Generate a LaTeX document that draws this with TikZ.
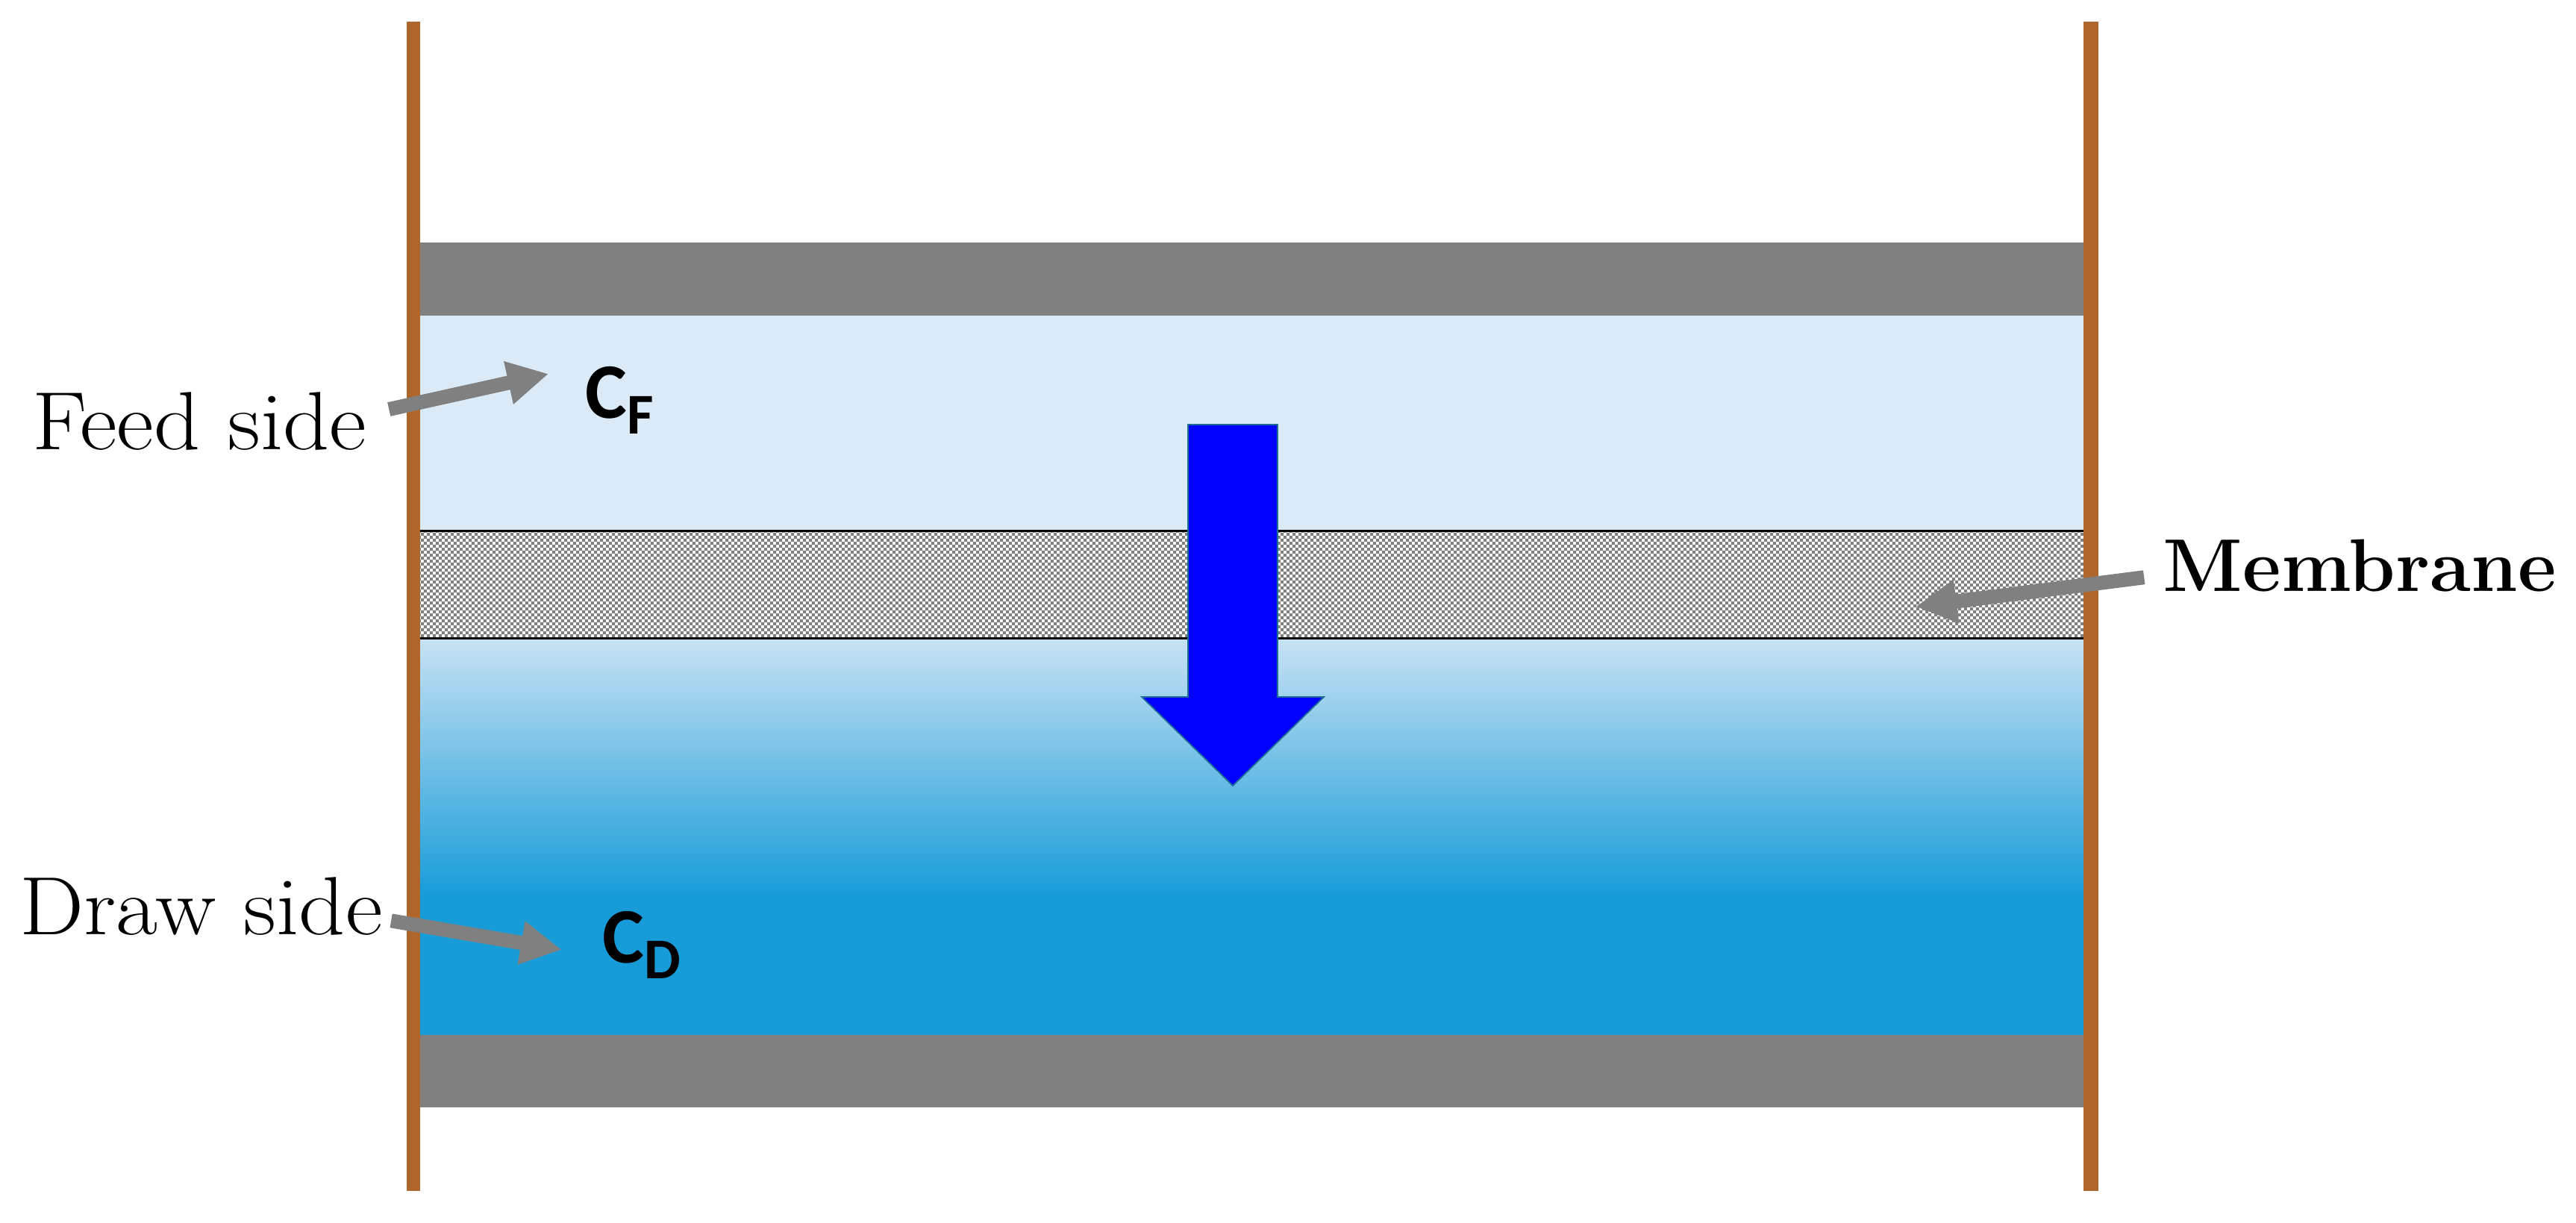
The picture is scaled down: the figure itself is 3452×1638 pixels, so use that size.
\documentclass[tikz,border=0pt]{standalone}
\usepackage{fontspec}
\newfontfamily\concfont{Carlito}
\newfontfamily\sidefont{Latin Modern Roman}[FakeStretch=1.1]
\usetikzlibrary{arrows.meta,patterns}

\definecolor{wallbrown}{RGB}{176,102,42}
\definecolor{plategray}{RGB}{128,128,128}
\definecolor{feedblue}{RGB}{218,234,247}
\definecolor{midblue}{RGB}{200,226,244}
\definecolor{drawblue}{RGB}{23,156,216}
\definecolor{fluxblue}{RGB}{0,0,255}
\definecolor{fluxedge}{RGB}{30,110,150}

\pgfdeclarepatternformonly{finechecker}{\pgfpointorigin}{\pgfqpoint{2.4pt}{2.4pt}}{\pgfqpoint{2.4pt}{2.4pt}}{%
  \pgfpathrectangle{\pgfpointorigin}{\pgfqpoint{1.25pt}{1.25pt}}%
  \pgfpathrectangle{\pgfqpoint{1.2pt}{1.2pt}}{\pgfqpoint{1.25pt}{1.25pt}}%
  \pgfusepath{fill}}

\newcommand{\conc}[1]{{\concfont\bfseries\fontsize{30}{30}\selectfont C\raisebox{-6pt}{\fontsize{22}{22}\selectfont #1}}}

\begin{document}
\begin{tikzpicture}[
    x=0.1mm, y=-0.1mm,
    wall/.style={fill=wallbrown},
    plate/.style={fill=plategray},
    lbl/.style={inner sep=0pt, anchor=base west, font=\sidefont\fontsize{31.5}{31.5}\selectfont},
    conc/.style={inner sep=0pt, anchor=base west},
    pointer/.style={draw=plategray, line width=1.9mm, -{Triangle[length=5.5mm,width=5.5mm]}},
    fluxarrow/.style={fill=fluxblue, draw=fluxedge, line width=0.5pt, line join=miter}
]
\useasboundingbox (0,0) rectangle (3452,1638);

% channel contents
\fill[feedblue] (563,423) rectangle (2792,711);
\shade[top color=midblue, bottom color=drawblue] (563,855) rectangle (2792,1200);
\fill[drawblue] (563,1199) rectangle (2792,1387);

% membrane
\fill[white] (563,711) rectangle (2792,855);
\fill[pattern=finechecker, pattern color=plategray] (563,711) rectangle (2792,855);
\draw[line width=0.3mm] (563,711) -- (2792,711);
\draw[line width=0.3mm] (563,855) -- (2792,855);

% plates and walls
\fill[plate] (563,325) rectangle (2792,423);
\fill[plate] (563,1387) rectangle (2792,1484);
\fill[wall] (545,29) rectangle (563,1596);
\fill[wall] (2792,29) rectangle (2812,1596);

% water flux
\draw[fluxarrow] (1592,569) -- (1712,569) -- (1712,934) -- (1774,934)
    -- (1652,1053) -- (1530,934) -- (1592,934) -- cycle;

\node[lbl] (feed) at (43,602) {Feed side};
\node[lbl] (drawlbl) at (26,1252) {Draw side};
\node[lbl, font=\bfseries\fontsize{28.5}{28.5}\selectfont] (memlbl) at (2898,792) {Membrane};
\node[conc] (cf) at (784,560) {\conc{F}};
\node[conc] (cd) at (807,1290) {\conc{D}};
\coordinate (memtip) at (2567,813);

\draw[pointer, shorten <=3mm, shorten >=5mm] ([yshift=0.9mm]feed.east) -- (cf.north west);
\draw[pointer, shorten <=1.1mm, shorten >=5.5mm] ([yshift=-1.8mm]drawlbl.east) -- ([yshift=-1.6mm]cd.west);
\draw[pointer, shorten <=2.5mm] ([yshift=-1.3mm]memlbl.west) -- (memtip);
\end{tikzpicture}
\end{document}
